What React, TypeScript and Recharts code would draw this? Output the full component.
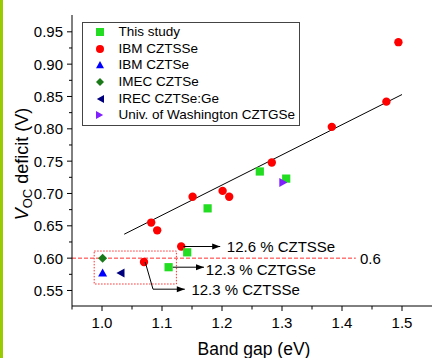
import React from 'react';
import {
  ScatterChart,
  Scatter,
  XAxis,
  YAxis,
  ReferenceLine,
  ReferenceArea,
  Legend,
} from 'recharts';

const FONT = '"Liberation Sans", Arial, Helvetica, sans-serif';

// axis ticks
const xMajorTicks = [1.0, 1.1, 1.2, 1.3, 1.4, 1.5];
const xMinorTicks = [0.95, 1.05, 1.15, 1.25, 1.35, 1.45];
const yMajorTicks = [0.55, 0.6, 0.65, 0.7, 0.75, 0.8, 0.85, 0.9, 0.95];
const yMinorTicks = [0.575, 0.625, 0.675, 0.725, 0.775, 0.825, 0.875, 0.925];

// series (band gap eV, Voc deficit V)
const thisStudy = [
  { x: 1.263, y: 0.734 },
  { x: 1.176, y: 0.677 },
  { x: 1.307, y: 0.723 },
  { x: 1.142, y: 0.609 },
  { x: 1.111, y: 0.586 },
];
const ibmCztsse = [
  { x: 1.494, y: 0.934 },
  { x: 1.474, y: 0.842 },
  { x: 1.383, y: 0.803 },
  { x: 1.283, y: 0.748 },
  { x: 1.201, y: 0.704 },
  { x: 1.212, y: 0.695 },
  { x: 1.151, y: 0.695 },
  { x: 1.082, y: 0.655 },
  { x: 1.092, y: 0.643 },
  { x: 1.132, y: 0.618 },
  { x: 1.07, y: 0.594 },
];
const ibmCztse = [{ x: 1.001, y: 0.577 }];
const imecCztse = [{ x: 1.001, y: 0.6 }];
const irecCztseGe = [{ x: 1.03, y: 0.577 }];
const uwCztgse = [{ x: 1.303, y: 0.717 }];

// linear fit through IBM points
const fitLine = [
  { x: 1.037, y: 0.637 },
  { x: 1.5, y: 0.853 },
];

// annotation arrows
const arrowCztsse126 = [
  { x: 1.136, y: 0.618 },
  { x: 1.197, y: 0.618 },
];
const arrowCztgse123 = [
  { x: 1.118, y: 0.586 },
  { x: 1.17, y: 0.586 },
];
const arrowCztsse123 = [
  { x: 1.072, y: 0.594 },
  { x: 1.085, y: 0.552 },
  { x: 1.138, y: 0.552 },
];
const annotations = [
  { x: 1.208, y: 0.618, text: '12.6 % CZTSSe' },
  { x: 1.173, y: 0.582, text: '12.3 % CZTGSe' },
  { x: 1.149, y: 0.551, text: '12.3 % CZTSSe' },
  { x: 1.43, y: 0.6, text: '0.6' },
];

// 0.6 V guide and highlighted box
const guideLine = [
  { x: 0.95, y: 0.6 },
  { x: 1.423, y: 0.6 },
];
const boxX = [0.987, 1.124];
const boxY = [0.56, 0.611];

const seriesNames = [
  'This study',
  'IBM CZTSSe',
  'IBM CZTSe',
  'IMEC CZTSe',
  'IREC CZTSe:Ge',
  'Univ. of Washington CZTGSe',
];
const seriesColors = ['#22dd22', '#ff0000', '#0000ff', '#1a7a1a', '#00007f', '#8020ff'];
const seriesShapes = ['square', 'circle', 'up', 'diamond', 'left', 'right'];

const same = (a: number, b: number) => Math.abs(a - b) < 1e-6;

const marker = (kind: string, cx: number, cy: number, color: string, s: number) => {
  const h = s / 2;
  switch (kind) {
    case 'square':
      return <rect x={cx - h} y={cy - h} width={s} height={s} fill={color} />;
    case 'circle':
      return <circle cx={cx} cy={cy} r={h} fill={color} />;
    case 'up':
      return <polygon points={`${cx},${cy - h} ${cx + h},${cy + h * 0.8} ${cx - h},${cy + h * 0.8}`} fill={color} />;
    case 'diamond':
      return <polygon points={`${cx},${cy - h} ${cx + h},${cy} ${cx},${cy + h} ${cx - h},${cy}`} fill={color} />;
    case 'left':
      return <polygon points={`${cx - h * 0.8},${cy} ${cx + h},${cy - h} ${cx + h},${cy + h}`} fill={color} />;
    default:
      return <polygon points={`${cx + h * 0.8},${cy} ${cx - h},${cy - h} ${cx - h},${cy + h}`} fill={color} />;
  }
};

const shapeFor = (i: number, s: number) => (p: any) => marker(seriesShapes[i], p.cx, p.cy, seriesColors[i], s);

const noShape = () => <g />;

const arrowShape = (pts: { x: number; y: number }[]) => (p: any) => {
  const last = pts[pts.length - 1];
  if (!p.payload || !same(p.payload.x, last.x) || !same(p.payload.y, last.y)) return <g />;
  return <polygon points={`${p.cx},${p.cy} ${p.cx - 8},${p.cy - 3} ${p.cx - 8},${p.cy + 3}`} fill="#000" />;
};

const textShape = (p: any) => {
  const isGuide = p.payload.text === '0.6';
  return (
    <text x={p.cx} y={p.cy} dy="0.36em" fontSize={15} fontFamily={FONT} fill={isGuide ? '#000' : '#000'}>
      {p.payload.text}
    </text>
  );
};

const LeftTick = (p: any) => {
  const v = p.payload.value;
  const major = yMajorTicks.some((t) => same(t, v));
  return (
    <g>
      <line x1={p.x} x2={p.x - (major ? 5 : 3)} y1={p.y} y2={p.y} stroke="#000" />
      {major && (
        <text x={p.x - 9} y={p.y} dy="0.36em" textAnchor="end" fontSize={15} fontFamily={FONT} fill="#000">
          {v.toFixed(2)}
        </text>
      )}
    </g>
  );
};

const BottomTick = (p: any) => {
  const v = p.payload.value;
  const major = xMajorTicks.some((t) => same(t, v));
  return (
    <g>
      <line x1={p.x} x2={p.x} y1={p.y} y2={p.y + (major ? 5 : 3.5)} stroke="#000" />
      {major && (
        <text x={p.x} y={p.y + 22} textAnchor="middle" fontSize={15} fontFamily={FONT} fill="#000">
          {v.toFixed(1)}
        </text>
      )}
    </g>
  );
};

const TopTick = (p: any) => <line x1={p.x} x2={p.x} y1={p.y} y2={p.y + 4} stroke="#000" />;
const RightTick = (p: any) => <line x1={p.x} x2={p.x - 4} y1={p.y} y2={p.y} stroke="#000" />;

const YLabel = (props: any) => {
  const vb = props.viewBox;
  const cx = vb.x + 28;
  const cy = vb.y + vb.height / 2 + 3.5;
  return (
    <text transform={`rotate(-90 ${cx} ${cy})`} x={cx} y={cy} textAnchor="middle" fontSize={18} fontFamily={FONT} fill="#000">
      <tspan fontStyle="italic">V</tspan>
      <tspan fontSize={13} dy={4}>OC</tspan>
      <tspan dy={-4}> deficit (V)</tspan>
    </text>
  );
};

const XLabel = (props: any) => {
  const vb = props.viewBox;
  return (
    <text x={vb.x + vb.width / 2 + 2} y={vb.y + 49} textAnchor="middle" fontSize={17.5} fontFamily={FONT} fill="#000">
      Band gap (eV)
    </text>
  );
};

const renderLegend = () => (
  <div
    style={{
      boxSizing: 'border-box',
      width: 218,
      height: 104,
      border: '1px solid #444',
      background: '#fff',
      paddingTop: 0.7,
      fontFamily: FONT,
      fontSize: 13.5,
      color: '#000',
    }}
  >
    {seriesNames.map((name, i) => (
      <div key={name} style={{ display: 'flex', alignItems: 'center', height: 16.67 }}>
        <svg width={12} height={12} style={{ marginLeft: 10.6, marginRight: 13, flexShrink: 0 }}>
          {marker(seriesShapes[i], 6, 6, seriesColors[i], 8)}
        </svg>
        <span style={{ whiteSpace: 'nowrap', lineHeight: '16px' }}>{name}</span>
      </div>
    ))}
  </div>
);

const topTicks = [...xMajorTicks, ...xMinorTicks.filter((t) => t > 0.96)].sort((a, b) => a - b);
const bottomTicks = [...xMajorTicks, ...xMinorTicks].sort((a, b) => a - b);
const leftTicks = [...yMajorTicks, ...yMinorTicks].sort((a, b) => a - b);

const App: React.FC = () => {
  return (
    <div style={{ position: 'absolute', left: 0, top: 0, width: 432, height: 358, background: '#fff', overflow: 'hidden' }}>
      <div style={{ position: 'absolute', left: 0, top: 0, width: 3, height: 358, background: '#99cc00', zIndex: 2 }} />
      <ScatterChart width={432} height={358} margin={{ top: 15, right: 0, bottom: 0, left: 0 }}>
        <XAxis
          dataKey="x"
          type="number"
          domain={[0.95, 1.55]}
          ticks={bottomTicks}
          interval={0}
          tickSize={0}
          tickMargin={0}
          tickLine={false}
          tick={BottomTick}
          height={52}
          axisLine={{ stroke: '#000' }}
          allowDataOverflow
          label={XLabel}
        />
        <XAxis
          xAxisId="top"
          orientation="top"
          dataKey="x"
          type="number"
          domain={[0.95, 1.55]}
          ticks={topTicks}
          interval={0}
          tickSize={0}
          tickMargin={0}
          tickLine={false}
          tick={TopTick}
          height={0}
          axisLine={{ stroke: '#000' }}
          allowDataOverflow
        />
        <YAxis
          dataKey="y"
          type="number"
          domain={[0.526, 0.976]}
          ticks={leftTicks}
          interval={0}
          tickSize={0}
          tickMargin={0}
          tickLine={false}
          tick={LeftTick}
          width={72}
          axisLine={{ stroke: '#000' }}
          allowDataOverflow
          label={YLabel}
        />
        <YAxis
          yAxisId="right"
          orientation="right"
          dataKey="y"
          type="number"
          domain={[0.526, 0.976]}
          ticks={yMajorTicks}
          interval={0}
          tickSize={0}
          tickMargin={0}
          tickLine={false}
          tick={RightTick}
          width={0}
          axisLine={{ stroke: '#000' }}
          allowDataOverflow
        />
        <Legend
          layout="vertical"
          align="center"
          verticalAlign="middle"
          wrapperStyle={{ left: 82, top: 22, width: 218, height: 104, margin: 0 }}
          content={renderLegend}
        />

        <ReferenceArea
          x1={boxX[0]}
          x2={boxX[1]}
          y1={boxY[0]}
          y2={boxY[1]}
          fill="none"
          fillOpacity={0}
          stroke="#ff3030"
          strokeWidth={1}
          strokeDasharray="1.5 1.5"
          ifOverflow="visible"
        />
        <ReferenceLine segment={guideLine} stroke="#ff3030" strokeWidth={1} strokeDasharray="4 2" ifOverflow="visible" />

        <Scatter data={fitLine} line={{ stroke: '#000', strokeWidth: 1 }} shape={noShape} isAnimationActive={false} legendType="none" />

        <Scatter data={ibmCztsse} shape={shapeFor(1, 8.4)} isAnimationActive={false} />
        <Scatter data={ibmCztse} shape={shapeFor(2, 9)} isAnimationActive={false} />
        <Scatter data={imecCztse} shape={shapeFor(3, 9)} isAnimationActive={false} />
        <Scatter data={irecCztseGe} shape={shapeFor(4, 9)} isAnimationActive={false} />
        <Scatter data={thisStudy} shape={shapeFor(0, 8.2)} isAnimationActive={false} />
        <Scatter data={uwCztgse} shape={shapeFor(5, 9)} isAnimationActive={false} />

        <Scatter data={arrowCztsse126} line={{ stroke: '#000', strokeWidth: 1 }} shape={arrowShape(arrowCztsse126)} isAnimationActive={false} />
        <Scatter data={arrowCztgse123} line={{ stroke: '#000', strokeWidth: 1 }} shape={arrowShape(arrowCztgse123)} isAnimationActive={false} />
        <Scatter data={arrowCztsse123} line={{ stroke: '#000', strokeWidth: 1 }} shape={arrowShape(arrowCztsse123)} isAnimationActive={false} />
        <Scatter data={annotations} shape={textShape} isAnimationActive={false} />
      </ScatterChart>
    </div>
  );
};

export default App;
